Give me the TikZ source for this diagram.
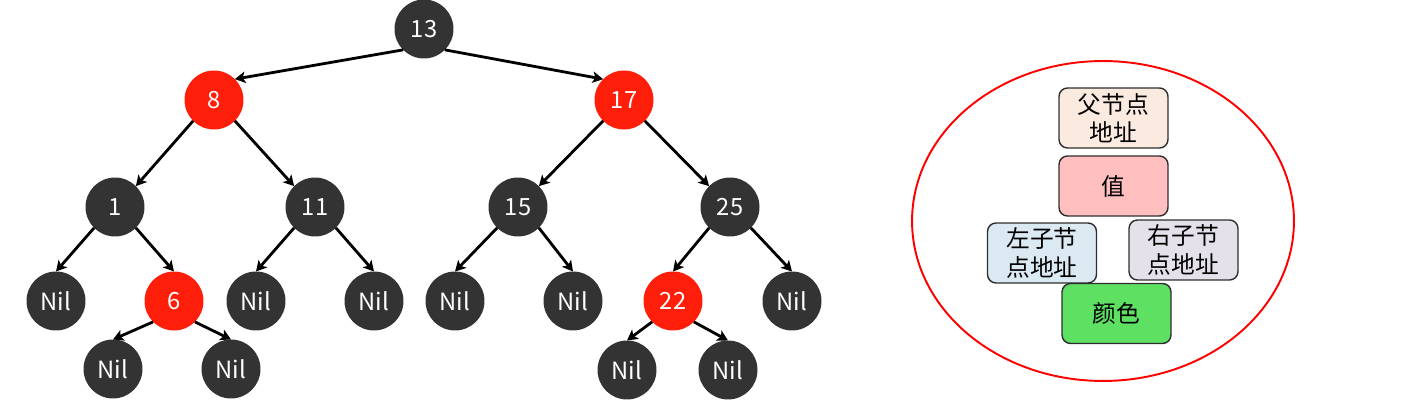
\documentclass[tikz,border=0pt]{standalone}
\usepackage{fontspec}
\setmainfont{Noto Sans CJK SC}
\usepackage{xcolor}
\usepackage{tikz}
\usetikzlibrary{arrows.meta}
\definecolor{nodeblack}{HTML}{333333}
\definecolor{nodered}{HTML}{FF1E0A}
\definecolor{boxline}{HTML}{2E2E2E}
\definecolor{parentfill}{HTML}{FBEAE0}
\definecolor{valuefill}{HTML}{FFBFBF}
\definecolor{leftfill}{HTML}{DBE9F3}
\definecolor{rightfill}{HTML}{E4E1EA}
\definecolor{colorfill}{HTML}{5EE063}

\begin{document}
\begin{tikzpicture}[x=0.02cm,y=-0.02cm,
        blk/.style={circle,fill=nodeblack,text=white,minimum size=1.18cm,inner sep=0pt,outer sep=0pt,font=\fontsize{13.5}{15}\selectfont},
        rd/.style={blk,fill=nodered},
        edge/.style={line width=1.6pt,-{Stealth[length=6pt,width=6.5pt,inset=1.5pt]}},
        field/.style={draw=boxline,line width=0.8pt,rounded corners=0.17cm,minimum width=2.18cm,minimum height=1.2cm,inner sep=0pt,align=center,font=\fontsize{13.5}{16}\selectfont}]
        \useasboundingbox (0,0) rectangle (1427,408);

        % tree
        \node[blk] (n13) at (424,29) {13};
        \node[rd] (n8) at (214,100) {8};
        \node[rd] (n17) at (624,100) {17};
        \node[blk] (n1) at (115,207) {1};
        \node[blk] (n11) at (315,207) {11};
        \node[blk] (n15) at (518,207) {15};
        \node[blk] (n25) at (730,207) {25};
        \node[blk] (nilA) at (56,301) {Nil};
        \node[rd] (n6) at (174,301) {6};
        \node[blk] (nilB) at (256,301) {Nil};
        \node[blk] (nilC) at (374,301) {Nil};
        \node[blk] (nilD) at (455,301) {Nil};
        \node[blk] (nilE) at (573,301) {Nil};
        \node[rd] (n22) at (673,301) {22};
        \node[blk] (nilF) at (792,301) {Nil};
        \node[blk] (nilG) at (113,369) {Nil};
        \node[blk] (nilH) at (231,369) {Nil};
        \node[blk] (nilI) at (627,370) {Nil};
        \node[blk] (nilJ) at (728,370) {Nil};

        \draw[edge] (n13.south west)--(n8.north east);
        \draw[edge] (n13.south east)--(n17.north west);
        \draw[edge] (n8.south west)--(n1.north east);
        \draw[edge] (n8.south east)--(n11.north west);
        \draw[edge] (n17.south west)--(n15.north east);
        \draw[edge] (n17.south east)--(n25.north west);
        \draw[edge] (n1.south west)--(nilA.north);
        \draw[edge] (n1.south east)--(n6.north);
        \draw[edge] (n11.south west)--(nilB.north);
        \draw[edge] (n11.south east)--(nilC.north);
        \draw[edge] (n15.south west)--(nilD.north);
        \draw[edge] (n15.south east)--(nilE.north);
        \draw[edge] (n25.south west)--(n22.north);
        \draw[edge] (n25.south east)--(nilF.north);
        \draw[edge] (n6.south west)--(nilG.north);
        \draw[edge] (n6.south east)--(nilH.north);
        \draw[edge] (n22.south west)--(nilI.north);
        \draw[edge] (n22.south east)--(nilJ.north);

        % node layout
        \draw[red,line width=1.1pt] (1103,221) ellipse [x radius=3.82cm,y radius=3.2cm];
        \node[field,fill=parentfill] (parent) at (1113.5,118) {父节点\\地址};
        \node[field,fill=valuefill] (value) at (1113.5,186) {值};
        \node[field,fill=leftfill] (leftchild) at (1042,253) {左子节\\点地址};
        \node[field,fill=rightfill] (rightchild) at (1183.5,250) {右子节\\点地址};
        \node[field,fill=colorfill] (colour) at (1116.5,313.5) {颜色};
    \end{tikzpicture}
\end{document}
